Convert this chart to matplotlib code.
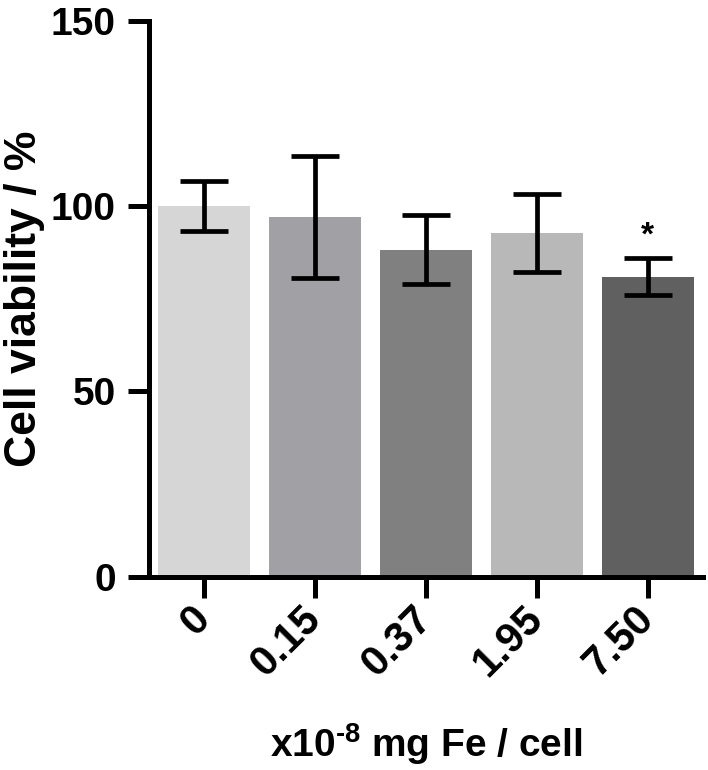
import numpy as np
import matplotlib.pyplot as plt

plt.rcParams['font.family'] = ['Liberation Sans', 'DejaVu Sans']
plt.rcParams['font.weight'] = 'bold'
plt.rcParams['mathtext.fontset'] = 'custom'
plt.rcParams['mathtext.rm'] = 'Liberation Sans:bold'
plt.rcParams['mathtext.bf'] = 'Liberation Sans:bold'

doses = ["0", "0.15", "0.37", "1.95", "7.50"]
viability = [100.0, 97.0, 88.1, 92.6, 80.9]
err_hi = [106.6, 113.5, 97.6, 103.3, 86.0]
err_lo = [93.3, 80.5, 78.9, 82.3, 76.0]
colors = ["#d6d6d6", "#a1a1a5", "#808080", "#b8b8b8", "#606060"]
signif = ["", "", "", "", "*"]

x = np.arange(len(doses))
v = np.array(viability)
yerr = [v - np.array(err_lo), np.array(err_hi) - v]

fig = plt.figure(figsize=(7.08, 7.70), dpi=100)
ax = fig.add_axes([0.2105, 0.2512, 0.7825, 0.722])

ax.bar(x, v, width=0.83, color=colors, zorder=1)
ax.errorbar(x, v, yerr=yerr, fmt="none", ecolor="black", elinewidth=3.4,
            capsize=17, capthick=3.4, zorder=2)
for xi, hi, s in zip(x, err_hi, signif):
    if s:
        ax.text(xi, hi + 1.8, s, ha="center", va="bottom", fontsize=24,
                fontweight="bold")

ax.set_xlim(-0.5, 4.5)
ax.set_ylim(0, 150)
ax.set_yticks([0, 50, 100, 150])
ax.set_xticks(x)
ax.set_xticklabels(doses, rotation=45, ha="right", va="center",
                   rotation_mode="anchor")
for sp in ["top", "right"]:
    ax.spines[sp].set_visible(False)
for sp in ["left", "bottom"]:
    ax.spines[sp].set_linewidth(3.6)
ax.tick_params(axis="both", width=3.6, length=15)
ax.tick_params(axis="y", pad=9, labelsize=28)
ax.tick_params(axis="x", pad=11, labelsize=30)

ax.set_ylabel("Cell viability / %", fontsize=32, fontweight="bold", labelpad=4)
ax.set_xlabel(r"x10$^{\text{-}8}$ mg Fe / cell", fontsize=28,
              fontweight="bold", labelpad=27)

fig.savefig("out.png", dpi=100)
